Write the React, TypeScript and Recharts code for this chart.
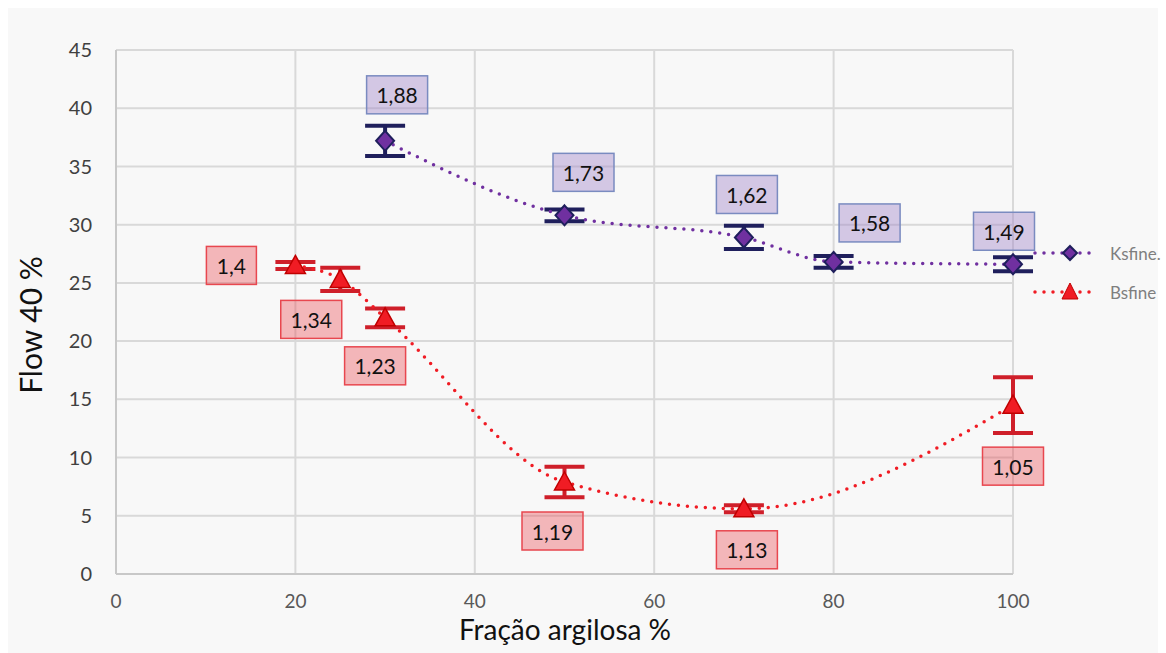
import React from "react";
import {
  ComposedChart,
  Line,
  XAxis,
  YAxis,
  CartesianGrid,
  ErrorBar,
  LabelList,
  Legend,
  Label,
} from "recharts";

// Ksfine series
const ksX = [30, 50, 70, 80, 100];
const ksFlow = [37.2, 30.8, 28.9, 26.8, 26.6];
const ksErr = [1.3, 0.5, 1.0, 0.5, 0.6];
const ksLabels = ["1,88", "1,73", "1,62", "1,58", "1,49"];

// Bsfine series
const bsX = [20, 25, 30, 50, 70, 100];
const bsFlow = [26.5, 25.3, 22.0, 7.9, 5.6, 14.5];
const bsErr = [0.3, 1.0, 0.8, 1.3, 0.3, 2.4];
const bsLabels = ["1,4", "1,34", "1,23", "1,19", "1,13", "1,05"];

const xTicks = [0, 20, 40, 60, 80, 100];
const yTicks = [0, 5, 10, 15, 20, 25, 30, 35, 40, 45];

// where each value box sits relative to its point
const ksLabelShift = [[12, -46], [19, -43], [3, -43], [36, -39], [-9, -33]];
const bsLabelShift = [[-64, 0], [-29, 40], [-10, 48], [-12, 49], [3, 41], [0, 61]];

const FONT = "Lato, 'Open Sans', sans-serif";
const BG = "#f8f8f8";
const KS_COLOR = "#7030a0";
const BS_COLOR = "#f01c24";

const ksData = ksX.map((x, i) => ({ x, y: ksFlow[i], err: ksErr[i], label: ksLabels[i] }));
const bsData = bsX.map((x, i) => ({ x, y: bsFlow[i], err: bsErr[i], label: bsLabels[i] }));

const diamond = (props: any) => {
  const { cx, cy, index } = props;
  if (cx == null || cy == null) return <g key={`kd-${index}`} />;
  return (
    <path
      key={`kd-${index}`}
      d={`M${cx},${cy - 10} L${cx + 9},${cy} L${cx},${cy + 10} L${cx - 9},${cy} Z`}
      fill={KS_COLOR}
      stroke="#1f1f5c"
      strokeWidth={2}
    />
  );
};

const triangle = (props: any) => {
  const { cx, cy, index } = props;
  if (cx == null || cy == null) return <g key={`bt-${index}`} />;
  return (
    <path
      key={`bt-${index}`}
      d={`M${cx},${cy - 10} L${cx + 10},${cy + 8} L${cx - 10},${cy + 8} Z`}
      fill={BS_COLOR}
      stroke="#c00000"
      strokeWidth={1.5}
    />
  );
};

const makeBoxLabel = (shift: number[][], fill: string, stroke: string) => (props: any) => {
  const vb = props.viewBox || {};
  const px = props.x ?? vb.x;
  const py = props.y ?? vb.y;
  const idx = props.index ?? 0;
  const [dx, dy] = shift[idx] || [0, 0];
  const txt = String(props.value);
  const w = txt.length <= 3 ? 50 : 61;
  const h = 38;
  const cx = px + dx;
  const cy = py + dy;
  return (
    <g key={`lb-${idx}-${txt}`}>
      <rect x={cx - w / 2} y={cy - h / 2} width={w} height={h} fill={fill} stroke={stroke} strokeWidth={1.5} />
      <text x={cx} y={cy} textAnchor="middle" dominantBaseline="central" fontFamily={FONT} fontSize={21} fill="#111">
        {txt}
      </text>
    </g>
  );
};

const renderLegend = () => (
  <svg width={130} height={70} style={{ overflow: "visible" }}>
    <line x1={0} y1={10} x2={63} y2={10} stroke={KS_COLOR} strokeWidth={3.5} strokeDasharray="0 9" strokeLinecap="round" />
    <path d="M35,3 L42,10 L35,17 L28,10 Z" fill={KS_COLOR} stroke="#1f1f5c" strokeWidth={2} />
    <text x={75} y={10} dominantBaseline="central" fontFamily={FONT} fontSize={17} fill="#7f7f7f">Ksfine.</text>
    <line x1={0} y1={49} x2={63} y2={49} stroke={BS_COLOR} strokeWidth={3.5} strokeDasharray="0 9" strokeLinecap="round" />
    <path d="M35,40 L43,56 L27,56 Z" fill={BS_COLOR} stroke="#c00000" strokeWidth={1} />
    <text x={75} y={49} dominantBaseline="central" fontFamily={FONT} fontSize={17} fill="#7f7f7f">Bsfine</text>
  </svg>
);

const yTitle = () => (
  <text
    x={22}
    y={317}
    transform="rotate(-90, 22, 317)"
    textAnchor="middle"
    dominantBaseline="central"
    fontFamily={FONT}
    fontSize={30}
    fill="#111"
  >
    Flow 40 %
  </text>
);

const xTitle = () => (
  <text x={557} y={632} textAnchor="middle" fontFamily={FONT} fontSize={28} fill="#111">
    Fração argilosa %
  </text>
);

export default function App() {
  return (
    <div style={{ position: "absolute", left: 8, top: 8, width: 1150, height: 645, background: BG }}>
      <ComposedChart
        width={1150}
        height={645}
        margin={{ top: 42, right: 145, bottom: 0, left: 0 }}
      >
        <CartesianGrid stroke="#d9d9d9" strokeWidth={2} />
        <XAxis
          type="number"
          dataKey="x"
          domain={[0, 100]}
          ticks={xTicks}
          height={79}
          tickLine={false}
          tickSize={0}
          tickMargin={21}
          axisLine={{ stroke: "#c8c8c8", strokeWidth: 2 }}
          tick={{ fontFamily: FONT, fontSize: 19, fill: "#595959" }}
          label={<Label content={xTitle} />}
        />
        <YAxis
          type="number"
          domain={[0, 45]}
          ticks={yTicks}
          width={108}
          tickLine={false}
          tickSize={0}
          tickMargin={24}
          axisLine={{ stroke: "#c8c8c8", strokeWidth: 2 }}
          tick={{ fontFamily: FONT, fontSize: 20, fill: "#404040" }}
          label={<Label content={yTitle} />}
        />
        <Legend
          content={renderLegend}
          layout="horizontal"
          align="center"
          verticalAlign="middle"
          wrapperStyle={{ left: 1027, top: 235, width: 130, height: 70 }}
        />
        <Line
          data={ksData}
          dataKey="y"
          name="Ksfine."
          type="monotone"
          stroke={KS_COLOR}
          strokeWidth={3.5}
          strokeDasharray="0 9"
          strokeLinecap="round"
          dot={diamond}
          activeDot={false}
          isAnimationActive={false}
        >
          <ErrorBar dataKey="err" direction="y" width={20} strokeWidth={4} stroke="#1f1f5c" isAnimationActive={false} />
          <LabelList dataKey="label" content={makeBoxLabel(ksLabelShift, "rgba(160,130,200,0.42)", "#7a8bc0")} />
        </Line>
        <Line
          data={bsData}
          dataKey="y"
          name="Bsfine"
          type="monotone"
          stroke={BS_COLOR}
          strokeWidth={3.5}
          strokeDasharray="0 9"
          strokeLinecap="round"
          dot={triangle}
          activeDot={false}
          isAnimationActive={false}
        >
          <ErrorBar dataKey="err" direction="y" width={20} strokeWidth={4} stroke="#cf1f2a" isAnimationActive={false} />
          <LabelList dataKey="label" content={makeBoxLabel(bsLabelShift, "rgba(235,60,70,0.35)", "#e8474f")} />
        </Line>
      </ComposedChart>
    </div>
  );
}
